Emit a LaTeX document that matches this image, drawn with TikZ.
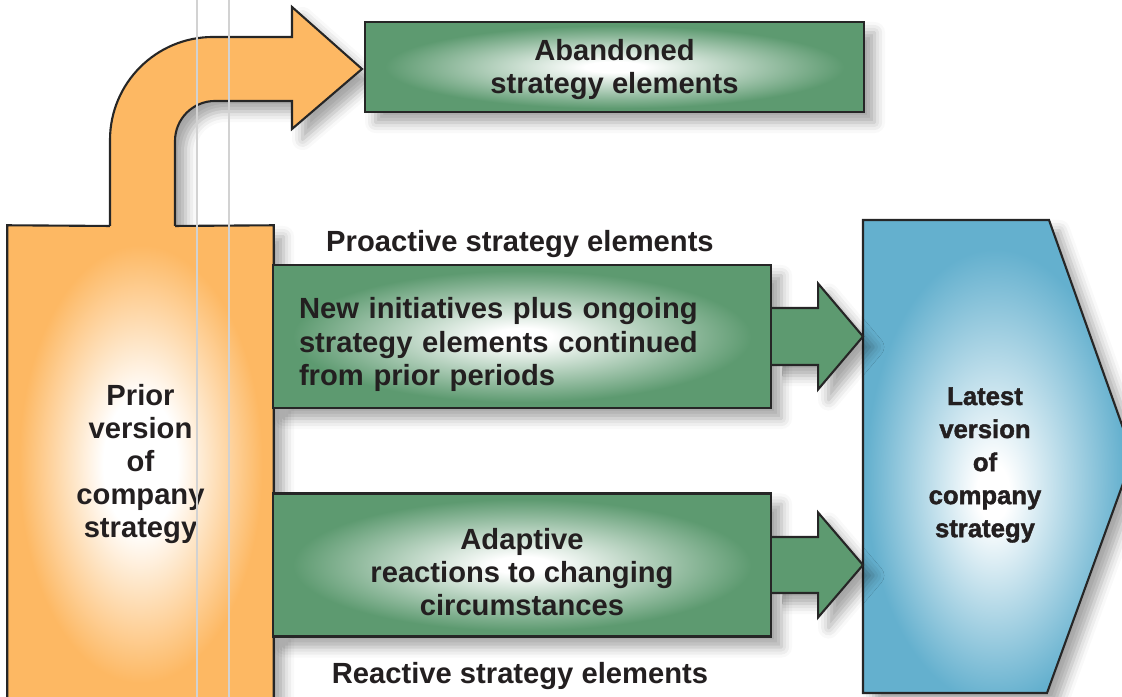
\documentclass[tikz,border=0pt]{standalone}
\usepackage{fontspec}
\setmainfont{Liberation Sans}
\newfontfamily\heavysans[BoldFeatures={FakeBold=1.6}]{Liberation Sans}
\usetikzlibrary{calc,shadows.blur}

\definecolor{stratgreen}{RGB}{93,154,112}
\definecolor{priororange}{RGB}{253,184,99}
\definecolor{latestblue}{RGB}{100,176,206}
\definecolor{inktext}{RGB}{35,31,32}

% soft glows, white in the middle
\pgfdeclareradialshading{greenglow}{\pgfpointorigin}{color(0bp)=(white); color(3bp)=(white); color(23bp)=(stratgreen); color(50bp)=(stratgreen)}
\pgfdeclareradialshading{orangeglow}{\pgfpointorigin}{color(0bp)=(white); color(7bp)=(white); color(23bp)=(priororange); color(50bp)=(priororange)}
\pgfdeclareradialshading{blueglow}{\pgfpoint{-1bp}{-4bp}}{color(0bp)=(white); color(3bp)=(white); color(24bp)=(latestblue); color(50bp)=(latestblue)}

\tikzset{
  every node/.style={font=\fontsize{8.3}{9.4}\selectfont\bfseries, text=inktext},
  outline/.style={draw=black!85, line width=0.6pt},
  softshadow/.style={blur shadow={shadow xshift=3pt, shadow yshift=-3pt, shadow blur radius=3pt, shadow opacity=35}},
  greenbox/.style={outline, softshadow, shade, shading=greenglow, minimum width=4.98cm, minimum height=1.43cm, inner sep=0pt},
}

\begin{document}
\begin{tikzpicture}
\useasboundingbox (0,0) rectangle (11.22,6.97);

% curved arrow out of the prior strategy
\fill[priororange, softshadow] (1.10,4.70) -- (1.10,5.57) arc[start angle=180, end angle=90, radius=1.03] -- (2.92,6.60) -- (2.92,6.90) -- (3.62,6.28) -- (2.92,5.68) -- (2.92,5.96) -- (2.15,5.96) arc[start angle=90, end angle=180, radius=0.40] -- (1.75,4.70) -- cycle;

% prior version column (runs off the bottom)
\node[shade, shading=orangeglow, softshadow, minimum width=2.65cm, minimum height=4.76cm, inner sep=0pt, align=center] (prior) at (1.405,2.33) {Prior\\version\\of\\company\\strategy};
\draw[outline] (1.10,4.71) -- (prior.north west) -- (prior.south west) -- (prior.south east) -- (prior.north east) -- (1.75,4.71);
\draw[outline] (1.10,4.71) -- (1.10,5.57) arc[start angle=180, end angle=90, radius=1.03] -- (2.92,6.60) -- (2.92,6.90) -- (3.62,6.28) -- (2.92,5.68) -- (2.92,5.96) -- (2.15,5.96) arc[start angle=90, end angle=180, radius=0.40] -- (1.75,4.71);

% green element boxes
\node[greenbox, minimum width=4.99cm, minimum height=0.90cm] (abandoned) at (6.145,6.30) {};
\node[align=center] (abandonedText) at ($(abandoned)+(0,-0.03)$) {Abandoned\\strategy elements};
\node[greenbox] (proactive) at (5.22,3.605) {};
\node[text width=4.46cm, align=left] (proactiveText) at ($(proactive)+(0,-0.08)$) {New initiatives plus ongoing\\strategy elements continued\\from prior periods};
\node[greenbox] (adaptive) at (5.22,1.32) {};
\node[align=center] (adaptiveText) at ($(adaptive)+(0,-0.07)$) {Adaptive\\reactions to changing\\circumstances};

\node (proLabel) at (5.20,4.53) {Proactive strategy elements};
\node (reLabel) at (5.20,0.21) {Reactive strategy elements};

% latest version, pointing right
\path[outline, softshadow, shade, shading=blueglow] (8.63,4.77) coordinate (latestNW) -- (10.49,4.77) -- (11.33,2.41) -- (10.47,0.04) -- (8.63,0.04) coordinate (latestSW) -- cycle;
\node[align=center, font=\heavysans\fontsize{7.3}{9.4}\selectfont\bfseries] (latest) at (9.85,2.32) {Latest\\version\\of\\company\\strategy};

% block arrows into the latest version
\draw[outline, fill=stratgreen, softshadow] ($(proactive.east)+(0,0.285)$) -- ++(0.46,0) -- ++(0,0.245) -- (proactive.east -| latestNW) -- ($(proactive.east)+(0.46,-0.53)$) -- ++(0,0.245) -- ($(proactive.east)+(0,-0.285)$);
\draw[outline, fill=stratgreen, softshadow] ($(adaptive.east)+(0,0.28)$) -- ++(0.46,0) -- ++(0,0.245) -- (adaptive.east -| latestNW) -- ($(adaptive.east)+(0.46,-0.525)$) -- ++(0,0.245) -- ($(adaptive.east)+(0,-0.28)$);

% thin guide lines
\draw[gray!35, line width=0.4pt] (1.97,0) -- (1.97,6.97);
\draw[gray!35, line width=0.4pt] (2.29,0) -- (2.29,6.97);
\end{tikzpicture}
\end{document}
